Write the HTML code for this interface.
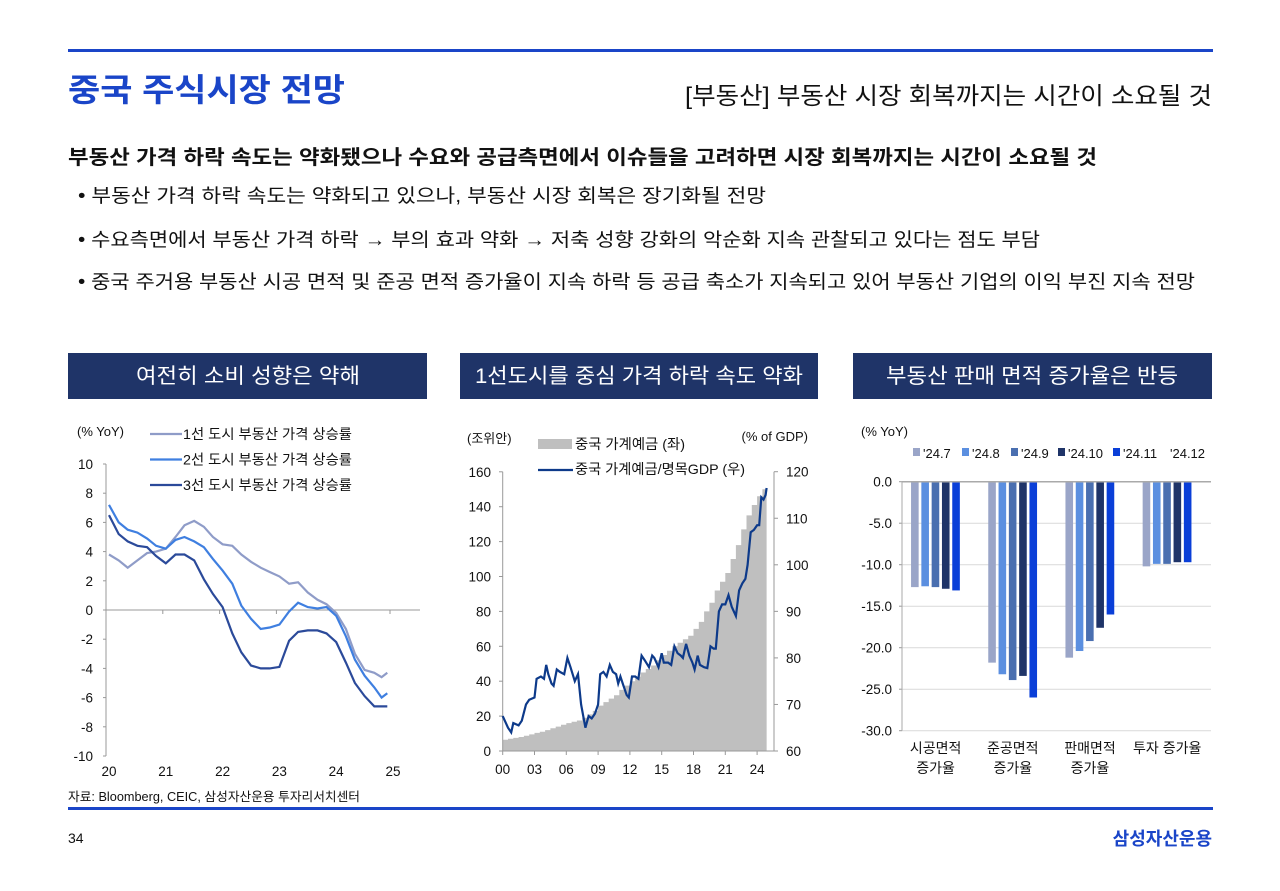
<!DOCTYPE html>
<html><head><meta charset="utf-8">
<style>
body{margin:0;width:1280px;height:886px;background:#fff;overflow:hidden;font-family:"Liberation Sans","Noto Sans CJK KR",sans-serif;}
svg text{font-family:"Liberation Sans","Noto Sans CJK KR",sans-serif;}
</style></head><body>
<svg id="s" width="1280" height="886" xmlns="http://www.w3.org/2000/svg">
<rect x="68" y="49" width="1145" height="3" fill="#1a45c8"/>
<text x="68" y="101" font-size="32" font-weight="bold" fill="#1a45c8" textLength="277" lengthAdjust="spacingAndGlyphs">중국 주식시장 전망</text>
<text x="685" y="104" font-size="24" fill="#111" textLength="527" lengthAdjust="spacingAndGlyphs">[부동산] 부동산 시장 회복까지는 시간이 소요될 것</text>
<text x="68" y="164" font-size="20" font-weight="bold" fill="#111" textLength="1029" lengthAdjust="spacingAndGlyphs">부동산 가격 하락 속도는 약화됐으나 수요와 공급측면에서 이슈들을 고려하면 시장 회복까지는 시간이 소요될 것</text>
<text x="78" y="202" font-size="19" fill="#111" textLength="688" lengthAdjust="spacingAndGlyphs">• 부동산 가격 하락 속도는 약화되고 있으나, 부동산 시장 회복은 장기화될 전망</text>
<text x="78" y="246" font-size="19" fill="#111" textLength="962" lengthAdjust="spacingAndGlyphs">• 수요측면에서 부동산 가격 하락 → 부의 효과 약화 → 저축 성향 강화의 악순화 지속 관찰되고 있다는 점도 부담</text>
<text x="78" y="288" font-size="19" fill="#111" textLength="1117" lengthAdjust="spacingAndGlyphs">• 중국 주거용 부동산 시공 면적 및 준공 면적 증가율이 지속 하락 등 공급 축소가 지속되고 있어 부동산 기업의 이익 부진 지속 전망</text>

<rect x="68" y="353" width="359" height="46" fill="#1f3468"/>
<text x="248" y="383" font-size="21" fill="#fff" text-anchor="middle" textLength="224" lengthAdjust="spacingAndGlyphs">여전히 소비 성향은 약해</text>
<rect x="460" y="353" width="358" height="46" fill="#1f3468"/>
<text x="639" y="383" font-size="21" fill="#fff" text-anchor="middle" textLength="328" lengthAdjust="spacingAndGlyphs">1선도시를 중심 가격 하락 속도 약화</text>
<rect x="853" y="353" width="359" height="46" fill="#1f3468"/>
<text x="1032" y="383" font-size="21" fill="#fff" text-anchor="middle" textLength="292" lengthAdjust="spacingAndGlyphs">부동산 판매 면적 증가율은 반등</text>

<g id="c1"></g>
<g id="c2"></g>
<g id="c3"></g>

<text x="68" y="801" font-size="12.5" fill="#111" textLength="292" lengthAdjust="spacingAndGlyphs">자료: Bloomberg, CEIC, 삼성자산운용 투자리서치센터</text>
<rect x="68" y="807" width="1145" height="3" fill="#1a45c8"/>
<text x="68" y="843" font-size="14" fill="#111">34</text>
<text x="1212" y="845" font-size="18" font-weight="bold" fill="#1a45c8" text-anchor="end">삼성자산운용</text>
</svg>
<script>
// ---- Chart 1 data ----
const c1Time=[20.0,20.17,20.33,20.5,20.67,20.83,21.0,21.17,21.33,21.5,21.67,21.83,22.0,22.17,22.33,22.5,22.67,22.83,23.0,23.17,23.33,23.5,23.67,23.83,24.0,24.17,24.33,24.5,24.67,24.8,24.9];
const tier1=[3.8,3.4,2.9,3.4,3.9,4.0,4.2,5.0,5.8,6.1,5.7,5.0,4.5,4.4,3.8,3.3,2.9,2.6,2.3,1.8,1.9,1.2,0.7,0.4,-0.2,-1.3,-3.0,-4.1,-4.3,-4.6,-4.3];
const tier2=[7.2,6.0,5.5,5.3,4.9,4.4,4.2,4.8,5.0,4.7,4.3,3.5,2.7,1.8,0.3,-0.6,-1.3,-1.2,-1.0,-0.1,0.5,0.2,0.1,0.2,-0.4,-1.8,-3.4,-4.5,-5.3,-6.0,-5.7];
const tier3=[6.5,5.2,4.7,4.4,4.3,3.7,3.2,3.8,3.8,3.4,2.1,1.1,0.2,-1.6,-2.9,-3.8,-4.0,-4.0,-3.9,-2.1,-1.5,-1.4,-1.4,-1.6,-2.2,-3.6,-5.0,-5.9,-6.6,-6.6,-6.6];
const c1YTicks=[10,8,6,4,2,0,-2,-4,-6,-8,-10];
const c1XTicks=[20,21,22,23,24,25];
const c1Names=["1선 도시 부동산 가격 상승률","2선 도시 부동산 가격 상승률","3선 도시 부동산 가격 상승률"];
// ---- Chart 2 data ----
const depTime=[0,0.5,1,1.5,2,2.5,3,3.5,4,4.5,5,5.5,6,6.5,7,7.5,8,8.5,9,9.5,10,10.5,11,11.5,12,12.5,13,13.5,14,14.5,15,15.5,16,16.5,17,17.5,18,18.5,19,19.5,20,20.5,21,21.5,22,22.5,23,23.5,24,24.5];
const deposits=[6.5,7,7.5,8,8.7,9.5,10.4,11,12,13,14,15,16,16.8,17.5,19,21,23,26,28,30,32,35,37.5,40,42.5,45,47,49,52,55,57.5,60,62,64,66,70,74,80,85,92,97,102,110,118,127,135,141,146,150];
const ratioTime=[0,0.5,0.8,1,1.5,1.8,2.2,2.5,3,3.2,3.6,3.9,4.1,4.3,4.6,4.8,5.1,5.4,5.8,6.1,6.4,6.8,7.1,7.4,7.8,8.1,8.4,8.7,9,9.2,9.5,9.8,10.1,10.4,10.7,10.9,11.1,11.4,11.7,11.9,12.2,12.5,12.8,13.1,13.4,13.8,14.1,14.3,14.7,15,15.2,15.6,15.9,16.2,16.5,16.8,17,17.3,17.6,17.9,18.1,18.4,18.6,19,19.3,19.6,19.9,20.1,20.4,20.7,21,21.3,21.6,22,22.3,22.6,22.9,23.1,23.4,23.7,24,24.2,24.4,24.6,24.8,24.9];
const ratio=[67.5,65,64,66,65.5,66.5,70,71,71.5,75.5,76,75.5,78.5,76.5,74.5,74,77.5,77,76.5,80,78,75,76.5,70,65,67.5,67,68,70,76.5,77,76,78.5,77,76.5,74.5,76,74,72,71.5,76,76,75.5,80.5,79.5,78,80.5,80,78,81,79,79,78.5,82.5,81,80.5,80,83,80.5,79,77.5,80.5,78.5,78,77.8,82.5,82,82,90,91.5,91.5,93.5,91,89,94.5,96,97,100,107,107.5,108.5,108.5,114.5,114,115,116.5];
const c2LTicks=[0,20,40,60,80,100,120,140,160];
const c2RTicks=[60,70,80,90,100,110,120];
const c2XTicks=["00","03","06","09","12","15","18","21","24"];
// ---- Chart 3 data ----
const c3Cats=[["시공면적","증가율"],["준공면적","증가율"],["판매면적","증가율"],["투자 증가율"]];
const c3Series=["'24.7","'24.8","'24.9","'24.10","'24.11","'24.12"];
const s247=[-12.7,-21.8,-21.2,-10.2];
const s248=[-12.6,-23.2,-20.4,-9.9];
const s249=[-12.7,-23.9,-19.2,-9.9];
const s2410=[-12.9,-23.4,-17.6,-9.7];
const s2411=[-13.1,-26.0,-16.0,-9.7];
const s2412=[null,null,null,null];
const c3YTicks=[0,-5,-10,-15,-20,-25,-30];

const NS="http://www.w3.org/2000/svg";
function mk(parent,tag,attrs,txt){const e=document.createElementNS(NS,tag);for(const k in attrs)e.setAttribute(k,attrs[k]);if(txt!==undefined)e.textContent=txt;parent.appendChild(e);return e;}

// Chart 1
(function(){
const g=document.getElementById('c1');
const x=t=>109+(t-20)*56.8, y=v=>610-v*14.6;
let e=mk(g,'line',{x1:106,y1:y(10),x2:106,y2:y(-10),stroke:'#999'});

e=mk(g,'line',{x1:106,y1:y(0),x2:420,y2:y(0),stroke:'#999'});

c1YTicks.forEach(v=>{
 mk(g,'line',{x1:103,y1:y(v),x2:106,y2:y(v),stroke:'#999'});
 e=mk(g,'text',{x:93,y:y(v)+5,'font-size':13.5,'text-anchor':'end',fill:'#111'},String(v));
 
});
c1XTicks.forEach(v=>{
 mk(g,'line',{x1:x(v)-3,y1:y(0),x2:x(v)-3,y2:y(0)+4,stroke:'#999'});
 e=mk(g,'text',{x:x(v),y:776,'font-size':13.5,'text-anchor':'middle',fill:'#111'},String(v));
 
});
e=mk(g,'text',{x:77,y:436,'font-size':13,fill:'#111'},'(% YoY)');

const cols=['#8f9cc8','#3f7fe0','#2b4a9a'];
[tier1,tier2,tier3].forEach((s,i)=>{
 const d=s.map((v,j)=>(j?'L':'M')+x(c1Time[j]).toFixed(1)+','+y(v).toFixed(1)).join('');
 e=mk(g,'path',{d:d,fill:'none',stroke:cols[i],'stroke-width':2.2});
 
 const ly=434+i*25.5;
 e=mk(g,'line',{x1:150,y1:ly,x2:182,y2:ly,stroke:cols[i],'stroke-width':2.2});
 
 e=mk(g,'text',{x:183,y:ly+5,'font-size':14,fill:'#111',textLength:169,lengthAdjust:'spacingAndGlyphs'},c1Names[i]);
 
});
})();

// Chart 2
(function(){
const g=document.getElementById('c2');
const x=t=>502.7+t*10.6, yl=v=>751-v*1.745, yr=v=>751-(v-60)*4.655;
let e;
let d='M'+x(0)+','+yl(0);
deposits.forEach((v,i)=>{const x0=x(depTime[i]),x1=x(depTime[i]+0.5>24.9?24.9:depTime[i]+0.5);d+='L'+x0.toFixed(1)+','+yl(v).toFixed(1)+'L'+x1.toFixed(1)+','+yl(v).toFixed(1);});
d+='L'+x(24.9)+','+yl(0)+'Z';
e=mk(g,'path',{d:d,fill:'#bfbfbf'});

e=mk(g,'line',{x1:502.7,y1:yl(160),x2:502.7,y2:yl(0),stroke:'#999'});

e=mk(g,'line',{x1:774,y1:yl(160),x2:774,y2:yl(0),stroke:'#999'});

e=mk(g,'line',{x1:502.7,y1:yl(0),x2:774,y2:yl(0),stroke:'#999'});

c2LTicks.forEach(v=>{mk(g,'line',{x1:499,y1:yl(v),x2:502.7,y2:yl(v),stroke:'#999'});
 e=mk(g,'text',{x:491,y:yl(v)+5,'font-size':13.5,'text-anchor':'end',fill:'#111'},String(v));
 });
c2RTicks.forEach(v=>{mk(g,'line',{x1:774,y1:yr(v),x2:778,y2:yr(v),stroke:'#999'});
 e=mk(g,'text',{x:786,y:yr(v)+5,'font-size':13.5,fill:'#111'},String(v));
 });
c2XTicks.forEach((v,i)=>{const t=i*3;mk(g,'line',{x1:x(t),y1:yl(0),x2:x(t),y2:yl(0)+4,stroke:'#999'});
 e=mk(g,'text',{x:x(t),y:774,'font-size':13.5,'text-anchor':'middle',fill:'#111'},v);
 });
const ld=ratio.map((v,j)=>(j?'L':'M')+x(ratioTime[j]).toFixed(1)+','+yr(v).toFixed(1)).join('');
e=mk(g,'path',{d:ld,fill:'none',stroke:'#0d3a8a','stroke-width':2.2});

e=mk(g,'text',{x:467,y:443,'font-size':13,fill:'#111'},'(조위안)');

e=mk(g,'text',{x:808,y:441,'font-size':13,'text-anchor':'end',fill:'#111'},'(% of GDP)');

e=mk(g,'rect',{x:538,y:439,width:34,height:10,fill:'#bfbfbf'});

e=mk(g,'text',{x:575,y:449,'font-size':14,fill:'#111',textLength:110,lengthAdjust:'spacingAndGlyphs'},'중국 가계예금 (좌)');

e=mk(g,'line',{x1:538,y1:470,x2:573,y2:470,stroke:'#0d3a8a','stroke-width':2.2});

e=mk(g,'text',{x:575,y:474,'font-size':14,fill:'#111',textLength:170,lengthAdjust:'spacingAndGlyphs'},'중국 가계예금/명목GDP (우)');

})();

// Chart 3
(function(){
const g=document.getElementById('c3');
const y=v=>481.7-v*8.3, gw=77.2, x0=902;
const cols=['#9aa5c8','#5b8fe0','#4a6fb0','#1f3468','#0a3fd8','#ffffff'];
let e;
c3YTicks.forEach(v=>{
 if(v!==0){e=mk(g,'line',{x1:x0,y1:y(v),x2:1211,y2:y(v),stroke:'#d9d9d9'});
 }
 mk(g,'line',{x1:x0-3,y1:y(v),x2:x0,y2:y(v),stroke:'#999'});
 e=mk(g,'text',{x:892,y:y(v)+5,'font-size':13.5,'text-anchor':'end',fill:'#111'},v.toFixed(1));
 
});
const series=[s247,s248,s249,s2410,s2411,s2412];
series.forEach((s,k)=>{s.forEach((v,i)=>{if(v===null)return;
 const cx=x0+gw*(i+0.5)+(k-2.5)*10.3;
 e=mk(g,'rect',{x:cx-3.8,y:y(0),width:7.6,height:y(v)-y(0),fill:cols[k]});
 
});});
e=mk(g,'line',{x1:x0,y1:y(0),x2:1211,y2:y(0),stroke:'#aaa','stroke-width':1.5});

e=mk(g,'line',{x1:x0,y1:y(0),x2:x0,y2:y(-30),stroke:'#aaa'});

c3Cats.forEach((c,i)=>{c.forEach((t,j)=>{
 e=mk(g,'text',{x:x0+gw*(i+0.5)-5,y:753+j*20,'font-size':14,'text-anchor':'middle',fill:'#111'},t);
 });});
e=mk(g,'text',{x:861,y:436,'font-size':13,fill:'#111'},'(% YoY)');

const lx=[913,962,1011,1058,1113,1160];
c3Series.forEach((n,k)=>{
 e=mk(g,'rect',{x:lx[k],y:448,width:7,height:8,fill:cols[k]});
 
 e=mk(g,'text',{x:lx[k]+10,y:458,'font-size':13,fill:'#111'},n);
 
});
})();
</script>
</body></html>
